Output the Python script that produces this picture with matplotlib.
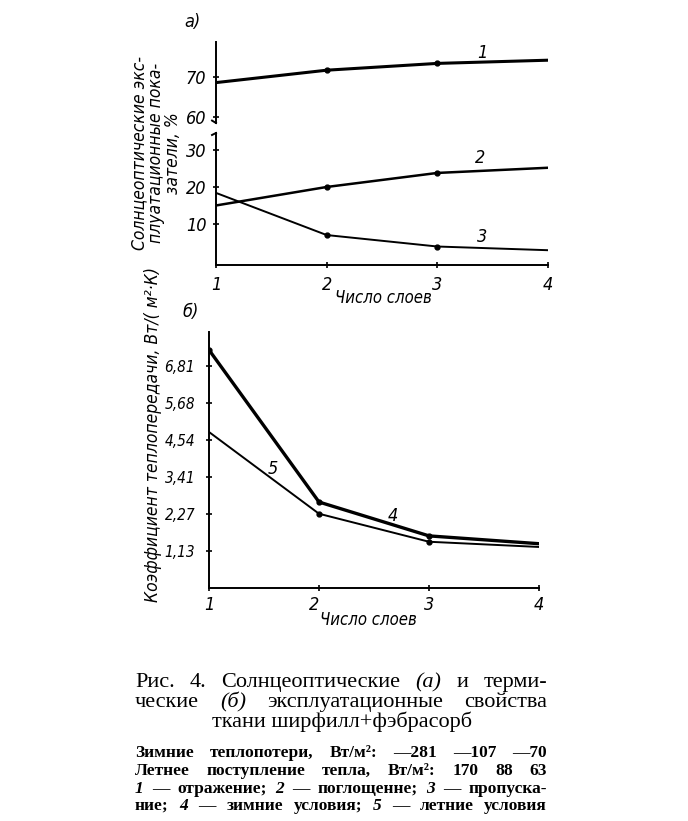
import matplotlib
matplotlib.use("Agg")
from matplotlib import pyplot as plt

# data
layers = [1, 2, 3, 4]
reflect = [68.6, 71.7, 73.4, 74.2]      # 1
absorb = [15.0, 20.0, 23.8, 25.2]       # 2
transmit = [18.4, 7.0, 3.9, 2.9]        # 3
winter = [7.31, 2.64, 1.60, 1.36]       # 4
summer = [4.79, 2.28, 1.42, 1.26]       # 5
k_ticks = [1.13, 2.27, 3.41, 4.54, 5.68, 6.81]
k_labels = ["1,13", "2,27", "3,41", "4,54", "5,68", "6,81"]

W, H = 688, 821
fig = plt.figure(figsize=(W / 100, H / 100), dpi=100)
fig.patch.set_facecolor("white")

SANS = ["DejaVu Sans"]
SERIF = ["Liberation Serif", "DejaVu Serif"]
ST = dict(family=SANS, style="italic", stretch="condensed")


def box(l, t, r, b):
    return [l / W, 1 - b / H, (r - l) / W, (b - t) / H]


def px(x, y):
    return x / W, 1 - y / H


def style(ax, lab_size=12):
    for s in ["top", "right"]:
        ax.spines[s].set_visible(False)
    for s in ["left", "bottom"]:
        ax.spines[s].set_linewidth(1.4)
    ax.tick_params(direction="inout", length=4, width=1.2, pad=5)
    for t in ax.get_xticklabels() + ax.get_yticklabels():
        t.set_family(SANS)
        t.set_style("italic")
        t.set_stretch("condensed")
        t.set_fontsize(lab_size)


def tag(ax, x, y, s):
    ax.text(x, y, s, fontsize=13, ha="center", va="center", **ST)


# ---- panel a, upper part
a1 = fig.add_axes(box(216, 42, 548, 123))
a1.plot(layers, reflect, color="k", lw=2.2, marker="o", ms=3.5, markevery=[1, 2])
a1.set_xlim(1, 4)
a1.set_ylim(58.5, 78.75)
a1.set_yticks([60, 70])
a1.set_xticks([])
style(a1, 13)
a1.spines["bottom"].set_visible(False)
tag(a1, 3.41, 76.0, "1")

# ---- panel a, lower part
a2 = fig.add_axes(box(216, 133, 548, 265))
a2.plot(layers, absorb, color="k", lw=1.8, marker="o", ms=3.5, markevery=[1, 2])
a2.plot(layers, transmit, color="k", lw=1.4, marker="o", ms=3.5, markevery=[1, 2])
a2.set_xlim(1, 4)
a2.set_ylim(-1.1, 34.6)
a2.set_yticks([10, 20, 30])
a2.set_xticks(layers)
style(a2, 13)
a2.tick_params(axis="x", pad=6)
tag(a2, 3.39, 27.8, "2")
tag(a2, 3.4, 6.5, "3")

# break hooks
a1.plot([0, -0.012], [0, 0.03], transform=a1.transAxes, color="k", lw=1.4, clip_on=False)
a2.plot([0, -0.012], [1, 0.985], transform=a2.transAxes, color="k", lw=1.4, clip_on=False)

# ---- panel b
b = fig.add_axes(box(209, 332, 539, 588))
b.plot(layers, winter, color="k", lw=2.4, marker="o", ms=3.5, markevery=[0, 1, 2])
b.plot(layers, summer, color="k", lw=1.4, marker="o", ms=3.5, markevery=[1, 2])
b.set_xlim(1, 4)
b.set_ylim(0, 7.86)
b.set_yticks(k_ticks)
b.set_yticklabels(k_labels)
b.set_xticks(layers)
style(b, 11)
b.tick_params(axis="y", pad=8)
b.tick_params(axis="x", pad=4, labelsize=13)
b.get_xticklabels()[1].set_ha("right")
tag(b, 1.58, 3.64, "5")
tag(b, 2.67, 2.2, "4")

# labels
fig.text(*px(192, 22), "а)", fontsize=13, ha="center", va="center", **ST)
fig.text(*px(191, 312), "б)", fontsize=13, ha="center", va="center", **ST)
fig.text(*px(156, 153), "Солнцеоптические экс-\nплуатационные пока-\nзатели, %",
         rotation=90, fontsize=12.5, ha="center", va="center",
         multialignment="center", linespacing=0.9, **ST)
fig.text(*px(153, 435), "Коэффициент теплопередачи, Вт/( м²·К)", rotation=90,
         fontsize=12.5, ha="center", va="center", **ST)
fig.text(*px(383, 298), "Число слоев", fontsize=12, ha="center", va="center", **ST)
fig.text(*px(368, 620), "Число слоев", fontsize=12, ha="center", va="center", **ST)

# ---- caption, justified lines
renderer = fig.canvas.get_renderer()


def justify(words, x0, x1, y, size, weight="normal"):
    items = []
    for w in words:
        it = w.startswith("_")
        txt = w[1:] if it else w
        t = fig.text(0, 1 - y / H, txt, fontsize=size, family=SERIF, weight=weight,
                     style="italic" if it else "normal", va="baseline")
        items.append(t)
    widths = [t.get_window_extent(renderer).width for t in items]
    gap = (x1 - x0 - sum(widths)) / max(len(items) - 1, 1)
    x = x0
    for t, w in zip(items, widths):
        t.set_x(x / W)
        x += w + gap


justify(["Рис.", "4.", "Солнцеоптические", "_(а)", "и", "терми-"], 135, 547, 687, 16)
justify(["ческие", "_(б)", "эксплуатационные", "свойства"], 135, 547, 707, 16)
fig.text(*px(342, 727), "ткани ширфилл+фэбрасорб", fontsize=16, family=SERIF,
         ha="center", va="baseline")

justify(["Зимние", "теплопотери,", "Вт/м²:", "—281", "—107", "—70"], 135, 547, 757, 12.5, "bold")
justify(["Летнее", "поступление", "тепла,", "Вт/м²:", "170", "88", "63"], 135, 547, 775, 12.5, "bold")
justify(["_1", "—", "отражение;", "_2", "—", "поглощенне;", "_3", "—", "пропуска-"],
        135, 547, 793, 12.5, "bold")
justify(["ние;", "_4", "—", "зимние", "условия;", "_5", "—", "летние", "условия"],
        135, 547, 810, 12.5, "bold")

fig.savefig("out.png", dpi=100, facecolor="white")
